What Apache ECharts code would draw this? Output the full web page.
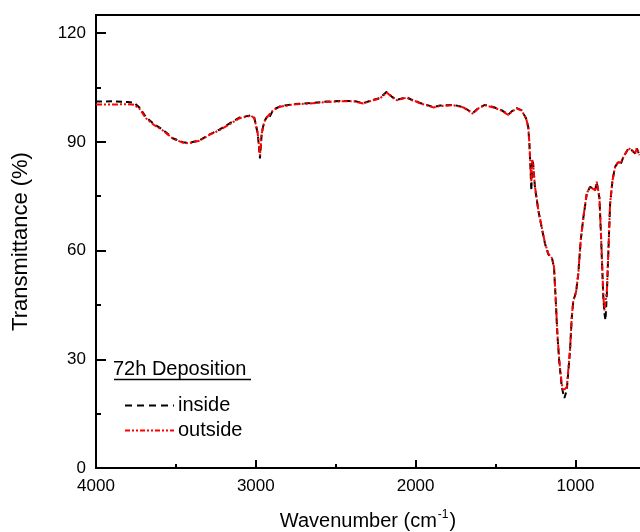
<!DOCTYPE html>
<html>
<head>
<meta charset="utf-8">
<script src="https://cdn.jsdelivr.net/npm/echarts@6/dist/echarts.min.js"></script>
<style>
html,body{margin:0;padding:0;background:#fff;}
#chart{width:640px;height:532px;}
</style>
</head>
<body>
<div id="chart"></div>
<script>
const wavenumbers = [4000,3900,3800,3762,3729,3687,3635,3583,3520,3457,3416,3354,3291,3228,3166,3103,3030,3009,2988,2974,2963,2947,2930,2921,2890,2848,2765,2661,2556,2452,2390,2327,2265,2223,2181,2150,2118,2056,2024,2000,1972,1931,1889,1847,1764,1701,1643,1608,1566,1514,1461,1420,1399,1367,1336,1326,1309,1295,1288,1282,1276,1270,1265,1253,1232,1211,1190,1170,1145,1134,1123,1113,1101,1086,1076,1069,1054,1034,1023,1013,996,982,967,950,929,908,892,877,867,856,850,841,833,825,818,812,803,793,783,768,752,731,716,699,668,647,626,616,599];
const outside = [100.3,100.3,100.4,100.2,99.2,96.5,94.6,93.2,90.9,89.8,89.6,90.3,91.9,93.2,94.8,96.5,97.2,96.5,92.3,86.2,92.3,95.5,96.8,96.3,98.8,99.7,100.3,100.6,101.0,101.2,101.2,100.6,101.5,102.0,103.6,102.4,101.5,102.2,101.5,101.2,100.6,100.1,99.5,99.9,100.1,99.5,97.8,99.2,100.1,99.5,98.6,97.4,98.3,99.2,98.6,97.8,96.5,94.1,89.6,84.0,79.0,85.0,84.0,77.6,71.1,66.5,62.0,59.2,57.8,55.5,46.3,37.1,29.7,23.3,21.3,21.0,22.4,32.5,41.7,46.3,48.6,53.7,62.9,69.3,75.8,77.6,77.1,76.7,79.0,79.4,74.8,65.6,56.4,47.2,43.5,44.0,49.1,61.0,73.0,79.4,83.1,84.5,84.0,85.9,88.2,87.7,86.8,88.2,86.3];
const inside = [101.1,101.2,101.0,100.8,99.5,96.8,94.8,93.4,91.0,89.9,89.7,90.4,92.0,93.4,95.0,96.7,97.3,96.6,92.3,85.4,92.5,95.6,96.9,96.3,98.9,99.8,100.4,100.7,101.1,101.3,101.3,100.7,101.6,102.1,103.8,102.5,101.6,102.3,101.6,101.3,100.7,100.2,99.6,100.0,100.2,99.6,97.9,99.3,100.2,99.6,98.7,97.5,98.4,99.3,98.7,97.8,96.5,94.0,89.4,83.5,76.5,85.0,84.0,77.4,71.0,66.3,61.8,59.0,57.6,55.3,46.0,36.8,29.2,22.5,20.5,19.3,21.5,32.3,41.5,46.2,48.5,53.6,62.8,69.2,75.7,77.6,77.1,76.6,78.9,79.3,74.5,65.2,55.8,46.5,42.5,40.8,48.5,60.8,72.9,79.4,83.1,84.5,84.0,85.9,88.2,87.7,86.8,88.2,86.3];
const xMajorTicks = [1000,2000,3000,4000];
const xMinorTicks = [1500,2500,3500];
const yMajorTicks = [0,30,60,90,120];
const yMinorTicks = [15,45,75,105];

const FONT = "'Liberation Sans', Arial, sans-serif";
const pairs = (ys) => wavenumbers.map((w, i) => [w, ys[i]]);

const chart = echarts.init(document.getElementById('chart'), null, {renderer: 'canvas'});
const axisLine = {show: true, onZero: false, lineStyle: {color: '#000', width: 2}};
const xBase = {type: 'value', min: 596, max: 4000, inverse: true, splitLine: {show: false}};
const yBase = {type: 'value', min: 0, max: 125, splitLine: {show: false}};
const plain = (v) => String(v);

chart.setOption({
  animation: false,
  backgroundColor: '#fff',
  grid: {left: 96, right: 0, top: 15, bottom: 64, containLabel: false, outerBoundsMode: 'none'},
  xAxis: [
    Object.assign({}, xBase, {
      position: 'bottom',
      axisLine: axisLine,
      axisTick: {show: true, inside: true, length: 8, customValues: xMajorTicks, lineStyle: {color: '#000', width: 2}},
      axisLabel: {show: true, customValues: xMajorTicks, formatter: plain, margin: 10, color: '#000', fontSize: 17, fontFamily: FONT},
      name: '{a|Wavenumber (cm}{b|-1}{a|)}',
      nameLocation: 'middle',
      nameGap: 41,
      nameTextStyle: {
        fontFamily: FONT, color: '#000',
        rich: {
          a: {fontSize: 20, fontFamily: FONT, color: '#000', lineHeight: 22, verticalAlign: 'bottom'},
          b: {fontSize: 12, fontFamily: FONT, color: '#000', lineHeight: 22, verticalAlign: 'top', padding: [0, 1, 0, 1]}
        }
      }
    }),
    Object.assign({}, xBase, {
      position: 'top',
      axisLine: axisLine,
      axisTick: {show: false},
      axisLabel: {show: false}
    }),
    Object.assign({}, xBase, {
      position: 'bottom',
      axisLine: {show: false, onZero: false},
      axisTick: {show: true, inside: true, length: 4, customValues: xMinorTicks, lineStyle: {color: '#000', width: 2}},
      axisLabel: {show: false}
    })
  ],
  yAxis: [
    Object.assign({}, yBase, {
      position: 'left',
      axisLine: axisLine,
      axisTick: {show: true, inside: true, length: 10, customValues: yMajorTicks, lineStyle: {color: '#000', width: 2}},
      axisLabel: {show: true, customValues: yMajorTicks, formatter: plain, margin: 10, color: '#000', fontSize: 17, fontFamily: FONT},
      name: 'Transmittance (%)',
      nameLocation: 'middle',
      nameGap: 64,
      nameTextStyle: {fontSize: 22, fontFamily: FONT, color: '#000'}
    }),
    Object.assign({}, yBase, {
      position: 'left',
      axisLine: {show: false, onZero: false},
      axisTick: {show: true, inside: true, length: 5, customValues: yMinorTicks, lineStyle: {color: '#000', width: 2}},
      axisLabel: {show: false}
    })
  ],
  series: [
    {
      name: 'inside', type: 'line', xAxisIndex: 0, yAxisIndex: 0,
      data: pairs(inside), showSymbol: false, symbol: 'none',
      lineStyle: {color: '#000', width: 2, type: [6, 4]}
    },
    {
      name: 'outside', type: 'line', xAxisIndex: 0, yAxisIndex: 0,
      data: pairs(outside), showSymbol: false, symbol: 'none',
      lineStyle: {color: '#ff0000', width: 2, type: [6, 2, 2, 2, 2, 2]}
    }
  ],
  graphic: [
    {type: 'text', left: 113, top: 359, style: {text: '72h Deposition', fontSize: 20, fontFamily: FONT, fill: '#000'}},
    {type: 'line', shape: {x1: 114, y1: 379.5, x2: 251, y2: 379.5}, style: {stroke: '#000', lineWidth: 1.5}},
    {type: 'line', shape: {x1: 125, y1: 405.5, x2: 174, y2: 405.5}, style: {stroke: '#000', lineWidth: 2, lineDash: [7, 5]}},
    {type: 'text', left: 178, top: 395, style: {text: 'inside', fontSize: 20, fontFamily: FONT, fill: '#000'}},
    {type: 'line', shape: {x1: 125, y1: 430.5, x2: 174, y2: 430.5}, style: {stroke: '#ff0000', lineWidth: 2, lineDash: [5, 2, 2, 2, 2, 2]}},
    {type: 'text', left: 178, top: 420, style: {text: 'outside', fontSize: 20, fontFamily: FONT, fill: '#000'}}
  ]
});
</script>
</body>
</html>
